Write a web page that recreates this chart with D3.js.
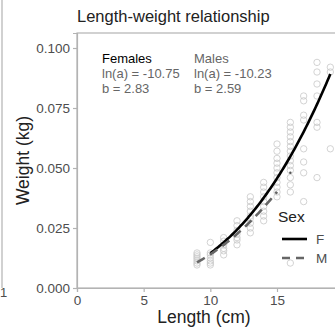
<!DOCTYPE html>
<html><head><meta charset="utf-8">
<script src="https://cdn.jsdelivr.net/npm/d3@7"></script>
<style>body{margin:0;background:#fff}svg{display:block;font-family:"Liberation Sans",Arial,sans-serif}</style>
</head><body>
<svg id="c" width="335" height="331"></svg>
<script>
// ---- data ----
const lengths = [9,10,11,12,13,14,15,16,17,18,19];
const weights = [
  [0.0146,0.0138,0.0130,0.0122,0.0113,0.0104,0.0096],
  [0.0190,0.0146,0.0138,0.0125,0.0113,0.0104,0.0096],
  [0.0210,0.0195,0.0180,0.0165,0.0155,0.0138],
  [0.0280,0.0260,0.0240,0.0225,0.0210,0.0200,0.0180],
  [0.0380,0.0360,0.0340,0.0320,0.0300,0.0290,0.0270,0.0250,0.0230],
  [0.0440,0.0420,0.0400,0.0380,0.0360,0.0340,0.0320,0.0300,0.0280],
  [0.0600,0.0570,0.0540,0.0520,0.0500,0.0480,0.0460,0.0440,0.0420,0.0400,0.0380],
  [0.0690,0.0670,0.0650,0.0630,0.0610,0.0590,0.0570,0.0550,0.0530,0.0510,0.0490,0.0460,0.0430,0.0400,0.0104],
  [0.0800,0.0780,0.0720,0.0700,0.0580,0.0525,0.0480,0.0360],
  [0.0940,0.0900,0.0850,0.0800,0.0690,0.0670,0.0460],
  [0.0920,0.0900,0.0580]
];
const markL = [16], markW = [0.048];
const sexes = ["F","M"];
const lnA = [-10.75, -10.23];
const bCoef = [2.83, 2.59];
const lRange = [[10,19],[9,15]];
const groupTitles = ["Females","Males"];
const xTicks = [0,5,10,15];
const yTicks = [0,0.025,0.05,0.075,0.1];

// ---- layout ----
const svg = d3.select("#c");
const L = 77, R = 337, T = 33, B = 288;
const x = d3.scaleLinear().domain([0,19.5]).range([L,R]);
const y = d3.scaleLinear().domain([0,0.10625]).range([B,T]);
const grey = "#b3b3b3";

// neighbour panel remnant
svg.append("line").attr("x1",2).attr("x2",2).attr("y1",0).attr("y2",B).attr("stroke",grey).attr("stroke-width",1.2);
svg.append("text").attr("x",0).attr("y",297).attr("font-size",13).attr("fill","#4d4d4d").text("1");

// title
svg.append("text").attr("x",L).attr("y",22).attr("font-size",16.5).attr("fill","#222").text("Length-weight relationship");

// panel border
svg.append("rect").attr("x",L).attr("y",T).attr("width",R-L).attr("height",B-T)
  .attr("fill","none").attr("stroke",grey).attr("stroke-width",1.2);

// axes
const xa = svg.append("g").attr("transform",`translate(0,${B})`)
  .call(d3.axisBottom(x).tickValues(xTicks).tickSize(4).tickPadding(3));
const ya = svg.append("g").attr("transform",`translate(${L},0)`)
  .call(d3.axisLeft(y).tickValues(yTicks).tickFormat(d3.format(".3f")).tickSize(4).tickPadding(3));
[xa,ya].forEach(g=>{
  g.select(".domain").attr("stroke",grey).attr("stroke-width",1.2);
  g.selectAll(".tick line").attr("stroke",grey).attr("stroke-width",1.2);
  g.selectAll(".tick text").attr("font-size",13.5).attr("fill","#4d4d4d").attr("font-family","Liberation Sans, Arial, sans-serif");
});
svg.append("text").attr("x",(L+R)/2 - 3).attr("y",323).attr("text-anchor","middle").attr("font-size",17.5).attr("fill","#222").text("Length (cm)");
svg.append("text").attr("transform",`translate(29,${(T+B)/2}) rotate(-90)`).attr("text-anchor","middle").attr("font-size",17.5).attr("fill","#222").text("Weight (kg)");

// clip
svg.append("clipPath").attr("id","clp").append("rect").attr("x",L).attr("y",T).attr("width",R-L).attr("height",B-T);
const plot = svg.append("g").attr("clip-path","url(#clp)");

// points
const pts = [];
lengths.forEach((l,i)=>weights[i].forEach(w=>pts.push({l,w})));
plot.selectAll("circle.p").data(pts).join("circle").attr("class","p")
  .attr("cx",d=>x(d.l)).attr("cy",d=>y(d.w)).attr("r",3.2)
  .attr("fill","none").attr("stroke","#c8c8c8").attr("stroke-width",0.8);
plot.selectAll("circle.m").data(markL.map((l,i)=>({l,w:markW[i]}))).join("circle").attr("class","m")
  .attr("cx",d=>x(d.l)).attr("cy",d=>y(d.w)).attr("r",1.2).attr("fill","#555");

// fitted curves
const line = d3.line().x(d=>x(d[0])).y(d=>y(d[1]));
const styles = [{c:"#000",dash:null},{c:"#666",dash:"9,6"}];
sexes.forEach((s,i)=>{
  const pts2 = d3.range(lRange[i][0], lRange[i][1]+0.001, 0.1).map(l=>[l, Math.exp(lnA[i])*Math.pow(l,bCoef[i])]);
  plot.append("path").datum(pts2).attr("d",line).attr("fill","none")
    .attr("stroke",styles[i].c).attr("stroke-width",2.6).attr("stroke-dasharray",styles[i].dash);
});

// annotations
const ax = [102,194], colors = ["#000","#666"];
groupTitles.forEach((g,i)=>{
  const t = svg.append("g").attr("font-size",13).attr("fill","#666");
  t.append("text").attr("x",ax[i]).attr("y",63).attr("fill",colors[i]).text(g);
  t.append("text").attr("x",ax[i]).attr("y",78).text(`ln(a) = ${lnA[i].toFixed(2)}`);
  t.append("text").attr("x",ax[i]).attr("y",93).text(`b = ${bCoef[i].toFixed(2)}`);
});

// legend
const lg = svg.append("g");
lg.append("text").attr("x",278).attr("y",222).attr("font-size",15.5).attr("fill","#222").text("Sex");
sexes.forEach((s,i)=>{
  const yy = 239 + i*19;
  lg.append("line").attr("x1",282).attr("x2",307).attr("y1",yy).attr("y2",yy)
    .attr("stroke",styles[i].c).attr("stroke-width",2.6).attr("stroke-dasharray",i? "8,6":null);
  lg.append("text").attr("x",316).attr("y",yy+5).attr("font-size",13.5).attr("fill","#4d4d4d").text(s);
});
</script>
</body></html>
